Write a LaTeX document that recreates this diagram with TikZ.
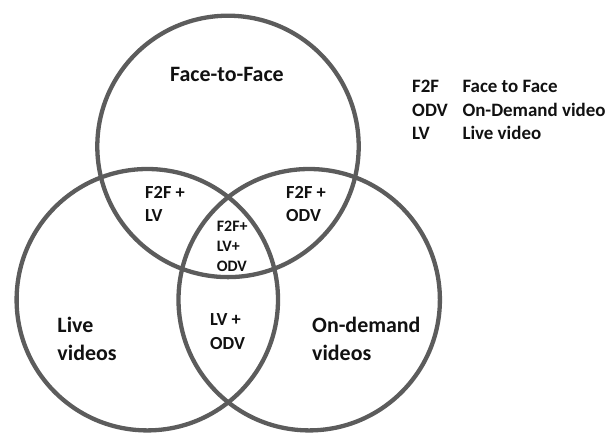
\documentclass[tikz,border=0pt]{standalone}
\usepackage{fontspec}
\setmainfont{Carlito}
\definecolor{ringgray}{HTML}{5C5C5C}
\definecolor{textblack}{HTML}{111111}
\begin{document}
\begin{tikzpicture}[x=1bp,y=-1bp,
  ring/.style={draw=ringgray,line width=4.3bp},
  lbl/.style={anchor=base west,inner sep=0pt,text=textblack,font=\bfseries\fontsize{#1}{#1}\selectfont},
  biglbl/.style={lbl=22},
  midlbl/.style={lbl=18.5},
  smalllbl/.style={lbl=16},
  leglbl/.style={lbl=19}]
\useasboundingbox (0,0) rectangle (612,432);
\begin{scope}
\clip (0,0) rectangle (612,432);
\draw[ring] (228,146.4) circle[radius=130.7];
\draw[ring] (147.3,299.7) circle[radius=130.7];
\draw[ring] (309.2,299.7) circle[radius=130.7];
\end{scope}
% main labels
\node[biglbl] (ftf) at (170,81) {Face-to-Face};
\node[biglbl] (live1) at (57.3,332.7) {Live};
\node[biglbl] (live2) at (57.3,360) {videos};
\node[biglbl] (od1) at (312,332.7) {On-demand};
\node[biglbl] (od2) at (312,360) {videos};
% pairwise
\node[midlbl] (fl1) at (145,198.3) {F2F +};
\node[midlbl] (fl2) at (145,221.7) {LV};
\node[midlbl] (fo1) at (286,198.3) {F2F +};
\node[midlbl] (fo2) at (286,221.7) {ODV};
\node[midlbl] (lo1) at (210,325) {LV +};
\node[midlbl] (lo2) at (210,349) {ODV};
% centre
\node[smalllbl] (c1) at (216.7,231.7) {F2F+};
\node[smalllbl] (c2) at (216.7,251.7) {LV+};
\node[smalllbl] (c3) at (216.7,271.7) {ODV};
% legend
\node[leglbl] (k1) at (412,92.3) {F2F};
\node[leglbl] (k2) at (412,116) {ODV};
\node[leglbl] (k3) at (412,139.3) {LV};
\node[leglbl] (v1) at (462.3,92.3) {Face to Face};
\node[leglbl] (v2) at (462.3,116) {On-Demand video};
\node[leglbl] (v3) at (462.3,139.3) {Live video};
\end{tikzpicture}
\end{document}
